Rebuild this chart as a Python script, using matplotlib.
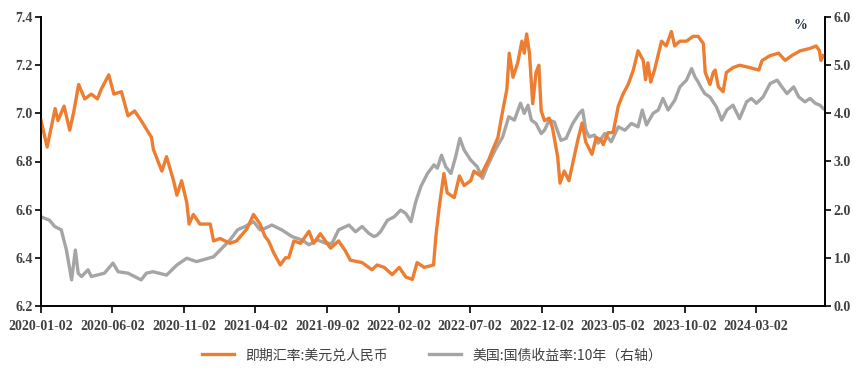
import matplotlib.dates as mdates
import matplotlib.pyplot as plt
import pandas as pd


# 即期汇率:美元兑人民币 (left axis)
cny_dates = [
    "2020-01-02", "2020-01-15", "2020-02-01", "2020-02-07", "2020-02-20", "2020-03-03",
    "2020-03-12", "2020-03-22", "2020-04-04", "2020-04-18", "2020-05-01", "2020-05-09",
    "2020-05-25", "2020-06-05", "2020-06-21", "2020-07-05", "2020-07-19", "2020-08-02",
    "2020-08-24", "2020-08-28", "2020-09-15", "2020-09-25", "2020-10-10", "2020-10-17",
    "2020-10-27", "2020-11-07", "2020-11-12", "2020-11-21", "2020-12-05", "2020-12-27",
    "2021-01-03", "2021-01-17", "2021-02-07", "2021-02-21", "2021-03-15", "2021-03-29",
    "2021-04-12", "2021-04-22", "2021-04-30", "2021-05-11", "2021-05-25", "2021-06-05",
    "2021-06-12", "2021-06-23", "2021-07-07", "2021-07-25", "2021-08-04", "2021-08-18",
    "2021-09-09", "2021-09-26", "2021-10-10", "2021-10-21", "2021-11-15", "2021-12-06",
    "2021-12-17", "2022-01-01", "2022-01-18", "2022-02-02", "2022-02-16", "2022-03-02",
    "2022-03-12", "2022-03-27", "2022-04-16", "2022-04-21", "2022-04-28", "2022-05-05",
    "2022-05-08", "2022-05-15", "2022-05-30", "2022-06-10", "2022-06-20", "2022-07-04",
    "2022-07-11", "2022-07-25", "2022-08-12", "2022-08-20", "2022-08-31", "2022-09-10",
    "2022-09-19", "2022-09-24", "2022-10-02", "2022-10-12", "2022-10-21", "2022-10-26",
    "2022-10-31", "2022-11-06", "2022-11-13", "2022-11-20", "2022-11-26", "2022-12-01",
    "2022-12-08", "2022-12-18", "2022-12-25", "2023-01-05", "2023-01-10", "2023-01-19",
    "2023-01-29", "2023-02-08", "2023-02-17", "2023-02-26", "2023-03-06", "2023-03-19",
    "2023-03-28", "2023-04-07", "2023-04-12", "2023-04-22", "2023-05-03", "2023-05-14",
    "2023-05-24", "2023-06-04", "2023-06-15", "2023-06-25", "2023-07-06", "2023-07-11",
    "2023-07-16", "2023-07-22", "2023-07-30", "2023-08-14", "2023-08-24", "2023-09-04",
    "2023-09-11", "2023-09-22", "2023-10-06", "2023-10-20", "2023-10-31", "2023-11-11",
    "2023-11-15", "2023-11-21", "2023-11-25", "2023-12-02", "2023-12-06", "2023-12-13",
    "2023-12-23", "2023-12-30", "2024-01-13", "2024-01-27", "2024-02-18", "2024-03-08",
    "2024-03-15", "2024-04-01", "2024-04-19", "2024-05-03", "2024-05-17", "2024-06-04",
    "2024-06-25", "2024-07-08", "2024-07-15", "2024-07-18", "2024-07-23",
]
cny_values = [
    6.97, 6.86, 7.02, 6.97, 7.03, 6.93,
    7.01, 7.12, 7.06, 7.08, 7.06, 7.10,
    7.16, 7.08, 7.09, 6.99, 7.01, 6.97,
    6.90, 6.85, 6.76, 6.82, 6.72, 6.66,
    6.72, 6.63, 6.54, 6.58, 6.54, 6.54,
    6.47, 6.48, 6.46, 6.47, 6.52, 6.58,
    6.54, 6.49, 6.47, 6.42, 6.37, 6.40,
    6.40, 6.47, 6.46, 6.51, 6.46, 6.50,
    6.44, 6.47, 6.43, 6.39, 6.38, 6.35,
    6.37, 6.36, 6.33, 6.36, 6.32, 6.31,
    6.38, 6.36, 6.37, 6.49, 6.61, 6.71,
    6.75, 6.67, 6.65, 6.74, 6.70, 6.72,
    6.76, 6.74, 6.81, 6.85, 6.90, 7.01,
    7.10, 7.25, 7.15, 7.21, 7.30, 7.25,
    7.33, 7.25, 7.04, 7.17, 7.20, 7.01,
    6.97, 6.98, 6.94, 6.82, 6.71, 6.76,
    6.72, 6.81, 6.89, 6.96, 6.88, 6.83,
    6.90, 6.89, 6.87, 6.92, 6.92, 7.03,
    7.08, 7.12, 7.18, 7.26, 7.22, 7.14,
    7.21, 7.13, 7.18, 7.30, 7.28, 7.34,
    7.28, 7.30, 7.30, 7.32, 7.32, 7.29,
    7.17, 7.14, 7.12, 7.17, 7.18, 7.11,
    7.09, 7.17, 7.19, 7.20, 7.19, 7.18,
    7.22, 7.24, 7.25, 7.22, 7.24, 7.26,
    7.27, 7.28, 7.26, 7.22, 7.24,
]

# 美国:国债收益率:10年 (right axis, %)
ust_dates = [
    "2020-01-02", "2020-01-20", "2020-01-31", "2020-02-14", "2020-02-25", "2020-03-07",
    "2020-03-15", "2020-03-21", "2020-03-28", "2020-04-11", "2020-04-18", "2020-05-16",
    "2020-06-03", "2020-06-14", "2020-07-05", "2020-08-02", "2020-08-13", "2020-08-27",
    "2020-09-25", "2020-10-17", "2020-11-07", "2020-11-28", "2021-01-03", "2021-01-17",
    "2021-02-07", "2021-02-23", "2021-03-11", "2021-03-29", "2021-04-12", "2021-04-22",
    "2021-05-07", "2021-05-28", "2021-06-19", "2021-07-10", "2021-07-25", "2021-08-12",
    "2021-08-30", "2021-09-12", "2021-09-26", "2021-10-18", "2021-11-01", "2021-11-15",
    "2021-11-29", "2021-12-10", "2021-12-17", "2021-12-24", "2022-01-08", "2022-01-22",
    "2022-02-05", "2022-02-16", "2022-02-27", "2022-03-09", "2022-03-20", "2022-04-03",
    "2022-04-17", "2022-04-24", "2022-05-03", "2022-05-12", "2022-05-23", "2022-06-02",
    "2022-06-11", "2022-06-20", "2022-07-04", "2022-07-18", "2022-07-29", "2022-08-08",
    "2022-08-25", "2022-09-10", "2022-09-23", "2022-10-05", "2022-10-18", "2022-10-26",
    "2022-11-03", "2022-11-10", "2022-11-20", "2022-12-01", "2022-12-08", "2022-12-18",
    "2022-12-29", "2023-01-12", "2023-01-23", "2023-02-06", "2023-02-20", "2023-02-27",
    "2023-03-06", "2023-03-13", "2023-03-24", "2023-04-01", "2023-04-15", "2023-04-29",
    "2023-05-14", "2023-05-28", "2023-06-11", "2023-06-25", "2023-07-04", "2023-07-13",
    "2023-07-27", "2023-08-07", "2023-08-17", "2023-08-28", "2023-09-11", "2023-09-22",
    "2023-10-06", "2023-10-17", "2023-10-24", "2023-10-31", "2023-11-07", "2023-11-14",
    "2023-11-25", "2023-12-09", "2023-12-20", "2023-12-31", "2024-01-13", "2024-01-27",
    "2024-02-11", "2024-02-21", "2024-03-03", "2024-03-17", "2024-04-01", "2024-04-16",
    "2024-04-26", "2024-05-07", "2024-05-21", "2024-06-01", "2024-06-14", "2024-06-25",
    "2024-07-06", "2024-07-16", "2024-07-23",
]
ust_values = [
    1.85, 1.78, 1.65, 1.58, 1.16, 0.54,
    1.16, 0.68, 0.61, 0.75, 0.61, 0.68,
    0.89, 0.71, 0.68, 0.54, 0.68, 0.71,
    0.64, 0.85, 0.99, 0.92, 1.02, 1.16,
    1.37, 1.58, 1.65, 1.75, 1.58, 1.61,
    1.68, 1.58, 1.44, 1.37, 1.27, 1.37,
    1.30, 1.30, 1.58, 1.68, 1.54, 1.65,
    1.51, 1.44, 1.47, 1.54, 1.78, 1.85,
    1.99, 1.92, 1.75, 2.16, 2.48, 2.75,
    2.93, 2.86, 3.13, 2.89, 2.75, 3.10,
    3.48, 3.24, 3.03, 2.89, 2.65, 2.89,
    3.24, 3.51, 3.93, 3.86, 4.21, 4.00,
    4.17, 3.86, 3.79, 3.58, 3.65, 3.86,
    3.82, 3.44, 3.48, 3.79, 4.00, 4.07,
    3.65, 3.51, 3.55, 3.38, 3.58, 3.41,
    3.72, 3.65, 3.79, 3.72, 4.07, 3.76,
    4.00, 4.07, 4.31, 4.07, 4.27, 4.55,
    4.69, 4.93, 4.76, 4.65, 4.52, 4.41,
    4.34, 4.13, 3.86, 4.07, 4.17, 3.89,
    4.24, 4.31, 4.21, 4.34, 4.62, 4.69,
    4.55, 4.41, 4.55, 4.34, 4.24, 4.31,
    4.21, 4.17, 4.10,
]

tick_dates = pd.date_range("2020-01-02", periods=11, freq=pd.DateOffset(months=5))

ORANGE = "#ED7D31"
GRAY = "#A5A5A5"
TEXT = "#404040"
NUM_FONT = {"family": "Liberation Serif", "weight": "bold", "size": 10}


def main() -> None:
    plt.rcParams["font.family"] = ["Noto Sans CJK SC", "DejaVu Sans"]

    fig = plt.figure(figsize=(8.64, 3.80), dpi=100)
    ax = fig.add_axes([0.0475, 0.195, 0.9075, 0.76])
    ax2 = ax.twinx()

    (l1,) = ax.plot(pd.to_datetime(cny_dates), cny_values, color=ORANGE, lw=2.4,
                    label="即期汇率:美元兑人民币")
    (l2,) = ax2.plot(pd.to_datetime(ust_dates), ust_values, color=GRAY, lw=2.4,
                     label="美国:国债收益率:10年（右轴）")
    ax.set_zorder(ax2.get_zorder() + 1)
    ax.patch.set_visible(False)

    ax.set_xlim(pd.Timestamp("2020-01-02"), pd.Timestamp("2024-07-27"))
    ax.set_ylim(6.2, 7.4)
    ax.set_yticks([6.2, 6.4, 6.6, 6.8, 7.0, 7.2, 7.4])
    ax2.set_ylim(0, 6)
    ax2.set_yticks(range(7))
    ax2.yaxis.set_major_formatter(plt.FormatStrFormatter("%.1f"))
    ax.yaxis.set_major_formatter(plt.FormatStrFormatter("%.1f"))

    ax.set_xticks(tick_dates)
    ax.xaxis.set_major_formatter(mdates.DateFormatter("%Y-%m-%d"))

    for a in (ax, ax2):
        a.spines["top"].set_visible(False)
        for s in a.spines.values():
            s.set_linewidth(1.2)
            s.set_color("black")
        a.tick_params(direction="out", length=4, width=1.2, colors="black",
                      labelcolor=TEXT, pad=2)
        for lab in a.get_xticklabels() + a.get_yticklabels():
            lab.set_fontproperties(NUM_FONT)
    ax.tick_params(axis="x", length=5, pad=5)

    ax2.text(0.968, 0.97, "%", transform=ax.transAxes, ha="center", va="center",
             fontsize=10, color="#1F2D3D", family="Liberation Serif", weight="bold")

    fig.legend(handles=[l1, l2], loc="center", bbox_to_anchor=(0.5, 0.065), ncol=2,
               frameon=False, fontsize=10, handlelength=2.3, columnspacing=3.0,
               labelcolor=TEXT)

    fig.savefig("out.png", dpi=100)
    plt.close(fig)


if __name__ == "__main__":
    main()
